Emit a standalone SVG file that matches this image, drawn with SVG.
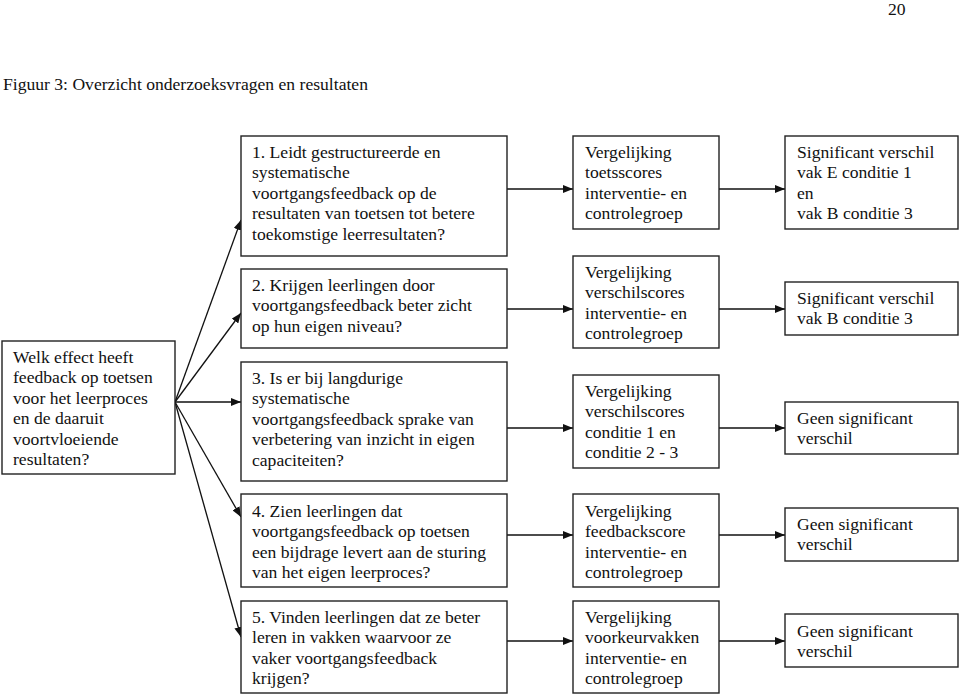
<svg xmlns="http://www.w3.org/2000/svg" width="960" height="697" viewBox="0 0 960 697">
<style>
text{font-family:"Liberation Serif","Times New Roman",serif;font-size:17.6px;fill:#111}
.box{fill:#fff;stroke:#222;stroke-width:1.4}
.conn{stroke:#111;stroke-width:1.3;fill:none;marker-end:url(#arr)}
</style>
<defs>
<marker id="arr" viewBox="0 0 10 8" refX="10" refY="4" markerWidth="10" markerHeight="8" markerUnits="userSpaceOnUse" orient="auto">
<path d="M0,0 L10,4 L0,8 z" fill="#111"/>
</marker>
</defs>
<rect width="960" height="697" fill="#fff"/>
<text x="888" y="15">20</text>
<text x="3" y="90">Figuur 3: Overzicht onderzoeksvragen en resultaten</text>

<g id="connectors">
<line class="conn" x1="175" y1="402" x2="241" y2="220"/>
<line class="conn" x1="175" y1="402" x2="241" y2="313"/>
<line class="conn" x1="175" y1="402" x2="241" y2="402"/>
<line class="conn" x1="175" y1="402" x2="241" y2="517"/>
<line class="conn" x1="175" y1="402" x2="241" y2="637"/>
<line class="conn" x1="507" y1="189" x2="573" y2="189"/>
<line class="conn" x1="507" y1="309" x2="573" y2="309"/>
<line class="conn" x1="507" y1="428" x2="573" y2="428"/>
<line class="conn" x1="507" y1="535" x2="573" y2="535"/>
<line class="conn" x1="507" y1="641" x2="573" y2="641"/>
<line class="conn" x1="719" y1="189" x2="785" y2="189"/>
<line class="conn" x1="719" y1="309" x2="785" y2="309"/>
<line class="conn" x1="719" y1="428" x2="785" y2="428"/>
<line class="conn" x1="719" y1="535" x2="785" y2="535"/>
<line class="conn" x1="719" y1="641" x2="785" y2="641"/>
</g>

<g id="main">
<rect class="box" x="2" y="341" width="173" height="133"/>
<text x="13" y="363">Welk effect heeft<tspan x="13" dy="20.4">feedback op toetsen</tspan><tspan x="13" dy="20.4">voor het leerproces</tspan><tspan x="13" dy="20.4">en de daaruit</tspan><tspan x="13" dy="20.4">voortvloeiende</tspan><tspan x="13" dy="20.4">resultaten?</tspan></text>
</g>

<g id="q1">
<rect class="box" x="241" y="136" width="266" height="120"/>
<text x="252" y="158">1. Leidt gestructureerde en<tspan x="252" dy="20.4">systematische</tspan><tspan x="252" dy="20.4">voortgangsfeedback op de</tspan><tspan x="252" dy="20.4">resultaten van toetsen tot betere</tspan><tspan x="252" dy="20.4">toekomstige leerresultaten?</tspan></text>
</g>
<g id="q2">
<rect class="box" x="241" y="269" width="266" height="79"/>
<text x="252" y="291">2. Krijgen leerlingen door<tspan x="252" dy="20.4">voortgangsfeedback beter zicht</tspan><tspan x="252" dy="20.4">op hun eigen niveau?</tspan></text>
</g>
<g id="q3">
<rect class="box" x="241" y="362" width="266" height="119"/>
<text x="252" y="384">3. Is er bij langdurige<tspan x="252" dy="20.4">systematische</tspan><tspan x="252" dy="20.4">voortgangsfeedback sprake van</tspan><tspan x="252" dy="20.4">verbetering van inzicht in eigen</tspan><tspan x="252" dy="20.4">capaciteiten?</tspan></text>
</g>
<g id="q4">
<rect class="box" x="241" y="494" width="266" height="93"/>
<text x="252" y="517">4. Zien leerlingen dat<tspan x="252" dy="20.4">voortgangsfeedback op toetsen</tspan><tspan x="252" dy="20.4">een bijdrage levert aan de sturing</tspan><tspan x="252" dy="20.4">van het eigen leerproces?</tspan></text>
</g>
<g id="q5">
<rect class="box" x="241" y="601" width="266" height="92"/>
<text x="252" y="623">5. Vinden leerlingen dat ze beter<tspan x="252" dy="20.4">leren in vakken waarvoor ze</tspan><tspan x="252" dy="20.4">vaker voortgangsfeedback</tspan><tspan x="252" dy="20.4">krijgen?</tspan></text>
</g>

<g id="m1">
<rect class="box" x="573" y="136" width="146" height="93"/>
<text x="585" y="158">Vergelijking<tspan x="585" dy="20.4">toetsscores</tspan><tspan x="585" dy="20.4">interventie- en</tspan><tspan x="585" dy="20.4">controlegroep</tspan></text>
</g>
<g id="m2">
<rect class="box" x="573" y="256" width="146" height="92"/>
<text x="585" y="278">Vergelijking<tspan x="585" dy="20.4">verschilscores</tspan><tspan x="585" dy="20.4">interventie- en</tspan><tspan x="585" dy="20.4">controlegroep</tspan></text>
</g>
<g id="m3">
<rect class="box" x="573" y="375" width="146" height="93"/>
<text x="585" y="397">Vergelijking<tspan x="585" dy="20.4">verschilscores</tspan><tspan x="585" dy="20.4">conditie 1 en</tspan><tspan x="585" dy="20.4">conditie 2 - 3</tspan></text>
</g>
<g id="m4">
<rect class="box" x="573" y="494" width="146" height="93"/>
<text x="585" y="517">Vergelijking<tspan x="585" dy="20.4">feedbackscore</tspan><tspan x="585" dy="20.4">interventie- en</tspan><tspan x="585" dy="20.4">controlegroep</tspan></text>
</g>
<g id="m5">
<rect class="box" x="573" y="601" width="146" height="92"/>
<text x="585" y="623">Vergelijking<tspan x="585" dy="20.4">voorkeurvakken</tspan><tspan x="585" dy="20.4">interventie- en</tspan><tspan x="585" dy="20.4">controlegroep</tspan></text>
</g>

<g id="r1">
<rect class="box" x="785" y="136" width="173" height="93"/>
<text x="797" y="158">Significant verschil<tspan x="797" dy="20.4">vak E conditie 1</tspan><tspan x="797" dy="20.4">en</tspan><tspan x="797" dy="20.4">vak B conditie 3</tspan></text>
</g>
<g id="r2">
<rect class="box" x="785" y="282" width="173" height="53"/>
<text x="797" y="304">Significant verschil<tspan x="797" dy="20.4">vak B conditie 3</tspan></text>
</g>
<g id="r3">
<rect class="box" x="785" y="402" width="173" height="52"/>
<text x="797" y="424">Geen significant<tspan x="797" dy="20.4">verschil</tspan></text>
</g>
<g id="r4">
<rect class="box" x="785" y="508" width="173" height="53"/>
<text x="797" y="530">Geen significant<tspan x="797" dy="20.4">verschil</tspan></text>
</g>
<g id="r5">
<rect class="box" x="785" y="614" width="173" height="53"/>
<text x="797" y="637">Geen significant<tspan x="797" dy="20.4">verschil</tspan></text>
</g>
</svg>
